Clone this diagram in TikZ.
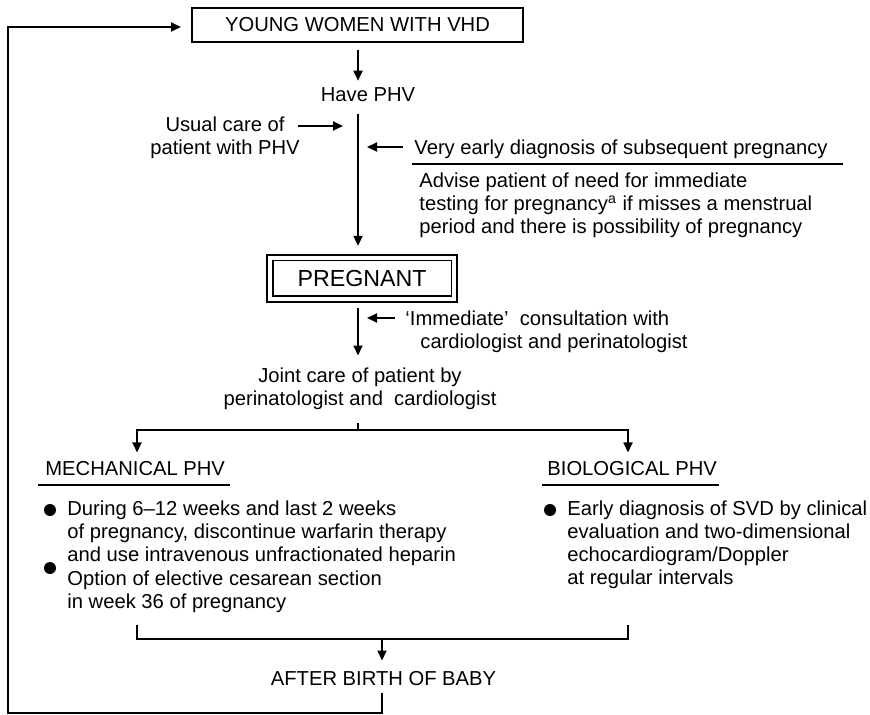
\documentclass[tikz,border=0pt]{standalone}
\usepackage{fontspec}
\setmainfont{Liberation Sans}
\usetikzlibrary{arrows.meta,calc}
\newcommand{\mylines}[1]{\begin{tabular}[t]{@{}l@{}}#1\end{tabular}}
\newcommand{\mycenter}[1]{\begin{tabular}[t]{@{}c@{}}#1\end{tabular}}
\begin{document}
\begin{tikzpicture}[x=0.5pt,y=-0.5pt,
  every node/.style={font=\fontsize{10.1pt}{11.5pt}\selectfont, inner sep=0pt},
  txt/.style={anchor=base west},
  ctxt/.style={anchor=base},
  ln/.style={line width=0.9pt},
  arr/.style={line width=0.9pt,-{Triangle[length=5pt,width=4.5pt]}},
  topbox/.style={draw,line width=1pt,minimum width=165.5pt,minimum height=17pt},
  pregbox/.style={draw,line width=1.1pt,minimum width=95pt,minimum height=23.5pt,
    font=\fontsize{11.6pt}{13pt}\selectfont},
  bullet/.style={circle,fill,minimum size=6pt}]
\useasboundingbox (0,0) rectangle (870,715);
\coordinate (spine) at (358,0);

% top box and first step
\node[topbox] (young) at (357.5,25) {YOUNG WOMEN WITH VHD};
\node[ctxt] (have) at (368,102) {Have PHV};
\draw[arr] ([yshift=-3.5pt]young.south -| spine) -- ([yshift=3.5pt]have.north -| spine);

% usual care
\node[ctxt] (usual) at (225,132) {\mycenter{Usual care of\\patient with PHV}};
\coordinate (u1) at (298,126);
\coordinate (u2) at (343,126);
\draw[arr] (u1) -- (u2);

% pregnant box
\node[pregbox] (preg) at (362,278.5) {PREGNANT};
\draw[line width=0.6pt] ([shift={(3.5pt,-3.5pt)}]preg.north west) rectangle ([shift={(-3.5pt,3.5pt)}]preg.south east);
\draw[arr] ([yshift=-5.5pt]have.south -| spine) -- ([yshift=4pt]preg.north -| spine);

% very early diagnosis
\node[txt] (very) at (414,155) {Very early diagnosis of subsequent pregnancy};
\coordinate (v1) at (403,147);
\coordinate (v2) at (367,147);
\draw[arr] (v1) -- (v2);
\draw[ln] ([xshift=-1pt,yshift=-4.5pt]very.base west) -- ([xshift=7.5pt,yshift=-4.5pt]very.base east);
\node[txt] (advise) at (419,188) {\mylines{Advise patient of need for immediate\\testing for pregnancy\textsuperscript{a} if misses a menstrual\\period and there is possibility of pregnancy}};

% immediate consultation
\node[ctxt] (joint) at (360,382) {\mycenter{Joint care of patient by\\perinatologist and\ \ cardiologist}};
\draw[arr] ([yshift=-2.5pt]preg.south -| spine) -- ([yshift=5pt]joint.north -| spine);
\node[txt] (imm) at (405,326) {\mylines{‘Immediate’\ \ consultation with\\\hspace*{7.5pt}cardiologist and perinatologist}};
\coordinate (i1) at (395,318);
\coordinate (i2) at (367,318);
\draw[arr] (i1) -- (i2);

% fork
\node[txt] (mech) at (45,475) {MECHANICAL PHV};
\node[txt] (bio) at (547,475) {BIOLOGICAL PHV};
\coordinate (fork) at (358,430);
\coordinate (forkL) at (137,430);
\coordinate (forkR) at (628,430);
\draw[ln] ([yshift=-5.5pt]joint.south -| spine) -- (fork);
\draw[arr] (fork) -- (forkL) -- ([yshift=4pt]mech.north -| forkL);
\draw[arr] (fork) -- (forkR) -- ([yshift=4pt]bio.north -| forkR);
\draw[ln] ([xshift=-3.5pt,yshift=-5pt]mech.base west) -- ([xshift=2.5pt,yshift=-5pt]mech.base east);
\draw[ln] ([xshift=-2.5pt,yshift=-5pt]bio.base west) -- ([xshift=1pt,yshift=-5pt]bio.base east);

% mechanical list
\node[bullet] (b1) at (50,510) {};
\node[txt] (m1) at (67,515) {\mylines{During 6–12 weeks and last 2 weeks\\of pregnancy, discontinue warfarin therapy\\and use intravenous unfractionated heparin}};
\node[bullet] (b2) at (50,568) {};
\node[txt] (m2) at (67,585) {\mylines{Option of elective cesarean section\\in week 36 of pregnancy}};

% biological list
\node[bullet] (b3) at (550,510) {};
\node[txt] (bl) at (567,515) {\mylines{Early diagnosis of SVD by clinical\\evaluation and two-dimensional\\echocardiogram/Doppler\\at regular intervals}};

% join
\node[ctxt] (after) at (383.5,685) {AFTER BIRTH OF BABY};
\coordinate (jL) at (137,625);
\coordinate (jLb) at (137,639);
\coordinate (jRb) at (628,639);
\coordinate (jR) at (628,625);
\coordinate (jM) at (382,639);
\draw[ln] (jL) -- (jLb) -- (jRb) -- (jR);
\draw[arr] (jM) -- ([yshift=5pt]after.north -| jM);

% return loop
\coordinate (r1) at (382,713);
\coordinate (r2) at (8,713);
\coordinate (r3) at (8,27);
\draw[arr] ([yshift=-3.5pt]after.south -| r1) -- (r1) -- (r2) -- (r3) -- ([xshift=-5pt]young.west |- r3);
\end{tikzpicture}
\end{document}
